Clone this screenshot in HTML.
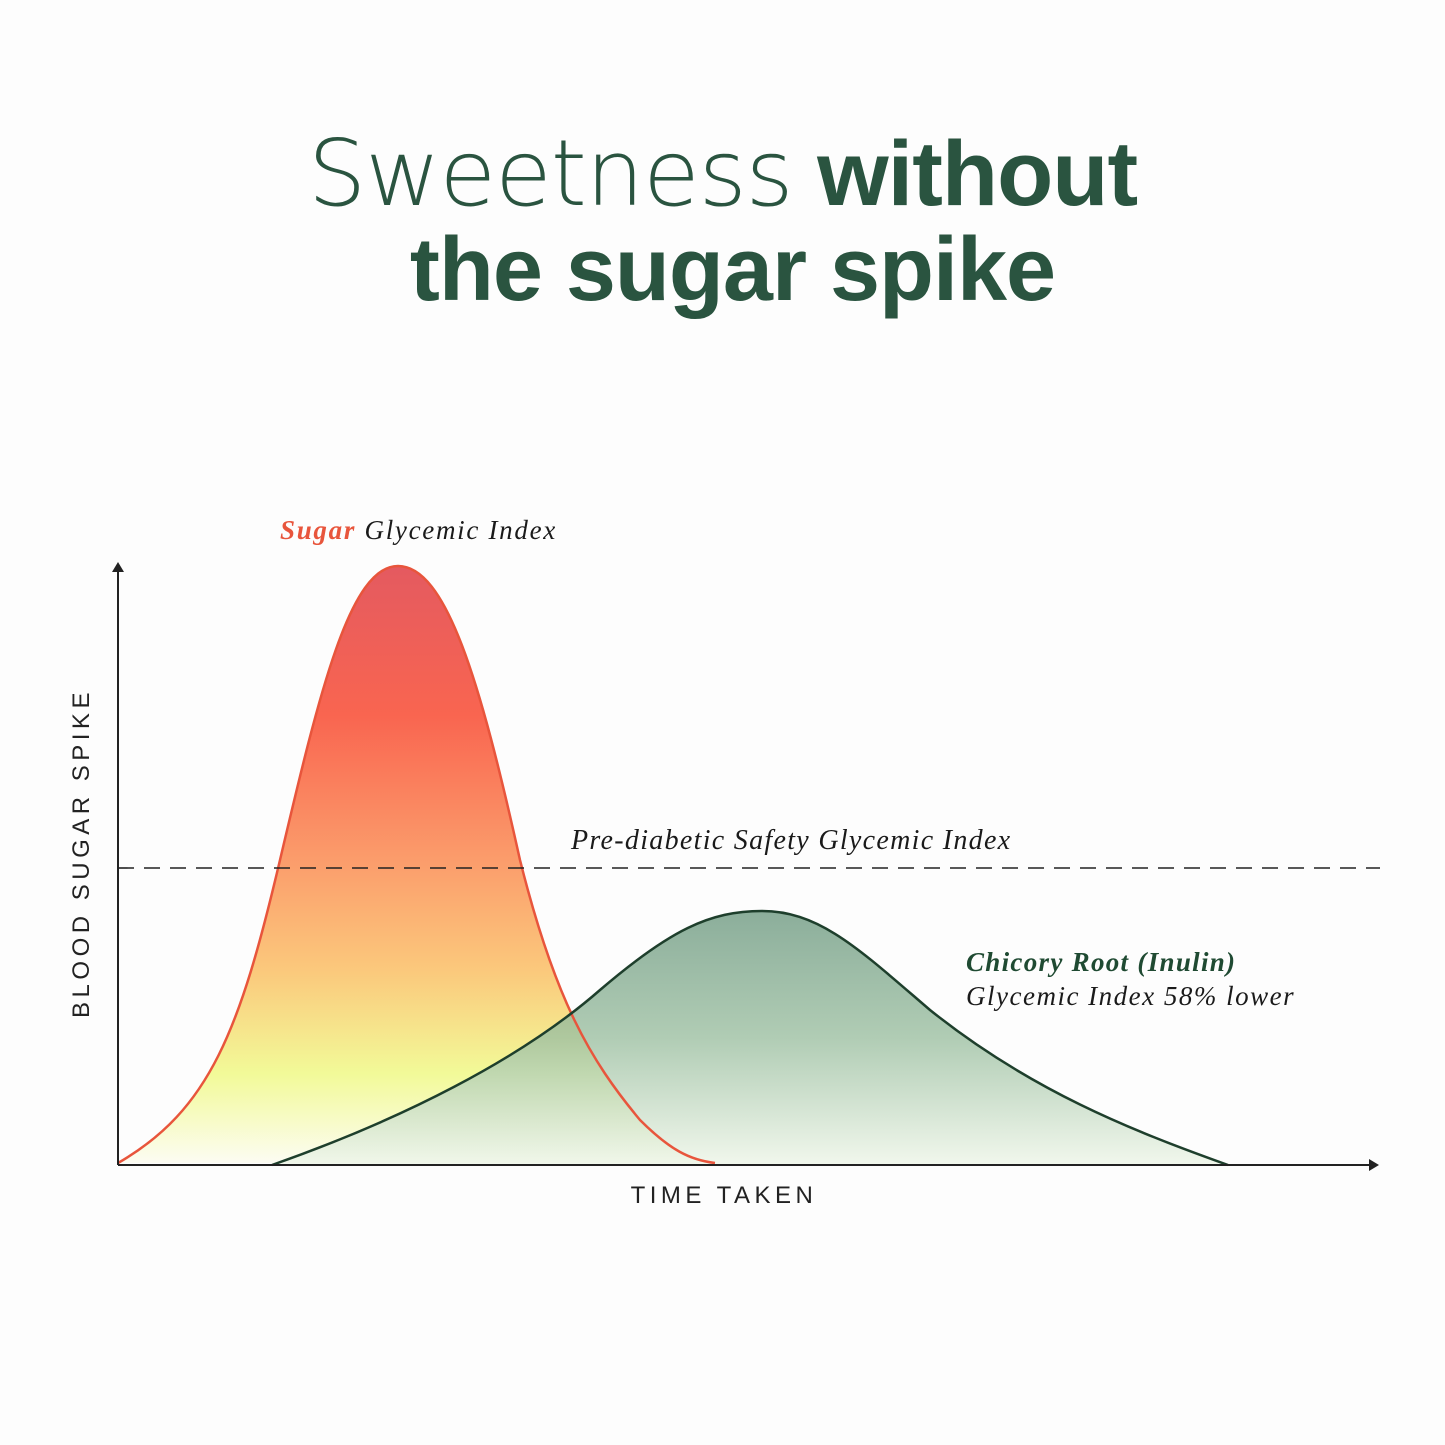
<!DOCTYPE html>
<html><head><style>
html,body{margin:0;padding:0;background:#fdfdfd;}
body{width:1445px;height:1445px;position:relative;overflow:hidden;font-family:"Liberation Sans",sans-serif;}
.t{position:absolute;left:0;width:1445px;text-align:center;color:#2a5440;font-size:92px;line-height:100px;letter-spacing:-1px;}
</style></head><body>
<div class="t" style="top:124px"><span style="font-family:'DejaVu Sans','Liberation Sans',sans-serif;font-weight:200">Sweetness</span> <b>without</b></div>
<div class="t" style="top:220px;left:10px;font-size:90px"><b>the sugar spike</b></div>
<svg width="1445" height="1445" style="position:absolute;left:0;top:0">
<defs>
<linearGradient id="gs" x1="0" y1="566" x2="0" y2="1163" gradientUnits="userSpaceOnUse">
<stop offset="0" stop-color="#e45a60"/>
<stop offset="0.25" stop-color="#f96550"/>
<stop offset="0.5" stop-color="#fb9e6c"/>
<stop offset="0.68" stop-color="#fbc97c"/>
<stop offset="0.85" stop-color="#f2fa98"/>
<stop offset="1" stop-color="#fcfcf2"/>
</linearGradient>
<linearGradient id="gc" x1="0" y1="911" x2="0" y2="1165" gradientUnits="userSpaceOnUse">
<stop offset="0" stop-color="#6f9a82"/>
<stop offset="0.5" stop-color="#9dc0a2"/>
<stop offset="1" stop-color="#eef6e8"/>
</linearGradient>
</defs>
<path d="M118,1163 C210,1110 240,1030 280,860 C320,690 350,566 398,566 C446,566 480,680 520,860 C555,1000 590,1060 640,1120 C670,1150 690,1160 715,1163 Z" fill="url(#gs)"/>
<path d="M272,1165 C400,1120 520,1060 600,990 C670,930 710,911 762,911 C820,911 860,950 930,1010 C1030,1090 1130,1130 1228,1165 Z" fill="url(#gc)" fill-opacity="0.8"/>
<path d="M118,1163 C210,1110 240,1030 280,860 C320,690 350,566 398,566 C446,566 480,680 520,860 C555,1000 590,1060 640,1120 C670,1150 690,1160 715,1163" fill="none" stroke="#e8553c" stroke-width="2.5"/>
<path d="M272,1165 C400,1120 520,1060 600,990 C670,930 710,911 762,911 C820,911 860,950 930,1010 C1030,1090 1130,1130 1228,1165" fill="none" stroke="#1e3f2c" stroke-width="2.5"/>
<line x1="118" y1="868" x2="1380" y2="868" stroke="#222" stroke-width="1.6" stroke-dasharray="16,10"/>
<line x1="118" y1="1165" x2="118" y2="570" stroke="#222" stroke-width="2"/>
<polygon points="118,562 112,572 124,572" fill="#222"/>
<line x1="118" y1="1165" x2="1372" y2="1165" stroke="#222" stroke-width="2"/>
<polygon points="1379,1165 1369,1159 1369,1171" fill="#222"/>
<g font-family="Liberation Serif,serif" font-style="italic" font-size="27" letter-spacing="1.7">
<text x="280" y="539"><tspan fill="#e8553c" font-weight="bold">Sugar</tspan><tspan fill="#1a1a1a"> Glycemic Index</tspan></text>
<text x="571" y="849" fill="#1a1a1a" font-size="28" letter-spacing="1.3">Pre-diabetic Safety Glycemic Index</text>
<text x="966" y="971" fill="#1f4a32" font-weight="bold" letter-spacing="1.3">Chicory Root (Inulin)</text>
<text x="966" y="1005" fill="#1a1a1a" letter-spacing="1.5">Glycemic Index 58% lower</text>
</g>
<text x="724" y="1203" text-anchor="middle" font-family="Liberation Sans,sans-serif" font-size="24" letter-spacing="4.5" fill="#222">TIME TAKEN</text>
<text transform="translate(89,853) rotate(-90)" text-anchor="middle" font-family="Liberation Sans,sans-serif" font-size="24" letter-spacing="4.5" fill="#222">BLOOD SUGAR SPIKE</text>
</svg>
</body></html>
